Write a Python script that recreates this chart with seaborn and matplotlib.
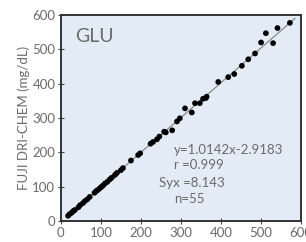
import matplotlib
matplotlib.use("Agg")
import matplotlib.pyplot as plt
import numpy as np
import pandas as pd
import seaborn as sns

# reference method (x) vs FUJI DRI-CHEM (y), mg/dL
ref_vals = [18, 22, 27, 31, 35, 44, 48, 55, 60, 66, 72, 84, 88, 92, 97,
            101, 105, 110, 116, 122, 127, 135, 140, 150, 155, 175, 193, 198,
            224, 230, 240, 246, 258, 262, 278, 290, 297, 310, 327, 335, 347,
            355, 362, 364, 393, 418, 433, 452, 468, 485, 500, 512, 530, 541, 572]
fuji_vals = [15, 20, 24, 29, 32, 40, 46, 52, 58, 63, 70, 82, 87, 90, 95,
             99, 103, 109, 114, 121, 126, 134, 140, 148, 154, 176, 192, 197,
             225, 230, 238, 246, 260, 258, 264, 290, 299, 328, 316, 343, 343,
             356, 358, 362, 405, 419, 428, 452, 471, 488, 520, 547, 518, 562, 577]
slope = 1.0142
intercept = -2.9183
fit_range = [15, 585]
stats_lines = ["y=1.0142x-2.9183", "r =0.999", "Syx =8.143", "n=55"]
ticks = [0, 100, 200, 300, 400, 500, 600]

df = pd.DataFrame({"ref": ref_vals, "fuji": fuji_vals})
fit_x = np.array(fit_range, dtype=float)
fit_df = pd.DataFrame({"x": fit_x, "y": slope * fit_x + intercept})

sns.set_style("ticks")
plt.rcParams["font.family"] = ["Lato", "DejaVu Sans"]
grey = "#6b6b6b"

fig = plt.figure(figsize=(3.06, 2.42), dpi=100)
ax = fig.add_axes([0.199, 0.087, 0.785, 0.851])
ax.set_facecolor("#e3ebf6")

sns.lineplot(data=fit_df, x="x", y="y", ax=ax, color="#8a8a8a", linewidth=0.9)
sns.scatterplot(data=df, x="ref", y="fuji", ax=ax, color="black", s=17,
                edgecolor="none", zorder=3)

ax.set_xlim(0, 600)
ax.set_ylim(0, 600)
ax.set_xticks(ticks)
ax.set_yticks(ticks)
ax.tick_params(direction="inout", length=4, width=0.8, colors="#444444",
               labelcolor=grey, labelsize=9.5, pad=2)
for sp in ax.spines.values():
    sp.set_linewidth(1.4)
    sp.set_color("#333333")

ax.set_xlabel("")
ax.set_ylabel("FUJI DRI-CHEM (mg/dL)", color=grey, fontsize=9.5, labelpad=2)

ax.text(0.06, 0.935, "GLU", transform=ax.transAxes, fontsize=14,
        color=grey, va="top", ha="left")

xs = [0.47, 0.47, 0.41, 0.47]
ys = [0.345, 0.27, 0.185, 0.105]
for txt, tx, ty in zip(stats_lines, xs, ys):
    ax.text(tx, ty, txt, transform=ax.transAxes, fontsize=9.5, color=grey,
            ha="left", va="center")

plt.savefig("out.png", dpi=100)
plt.close()
